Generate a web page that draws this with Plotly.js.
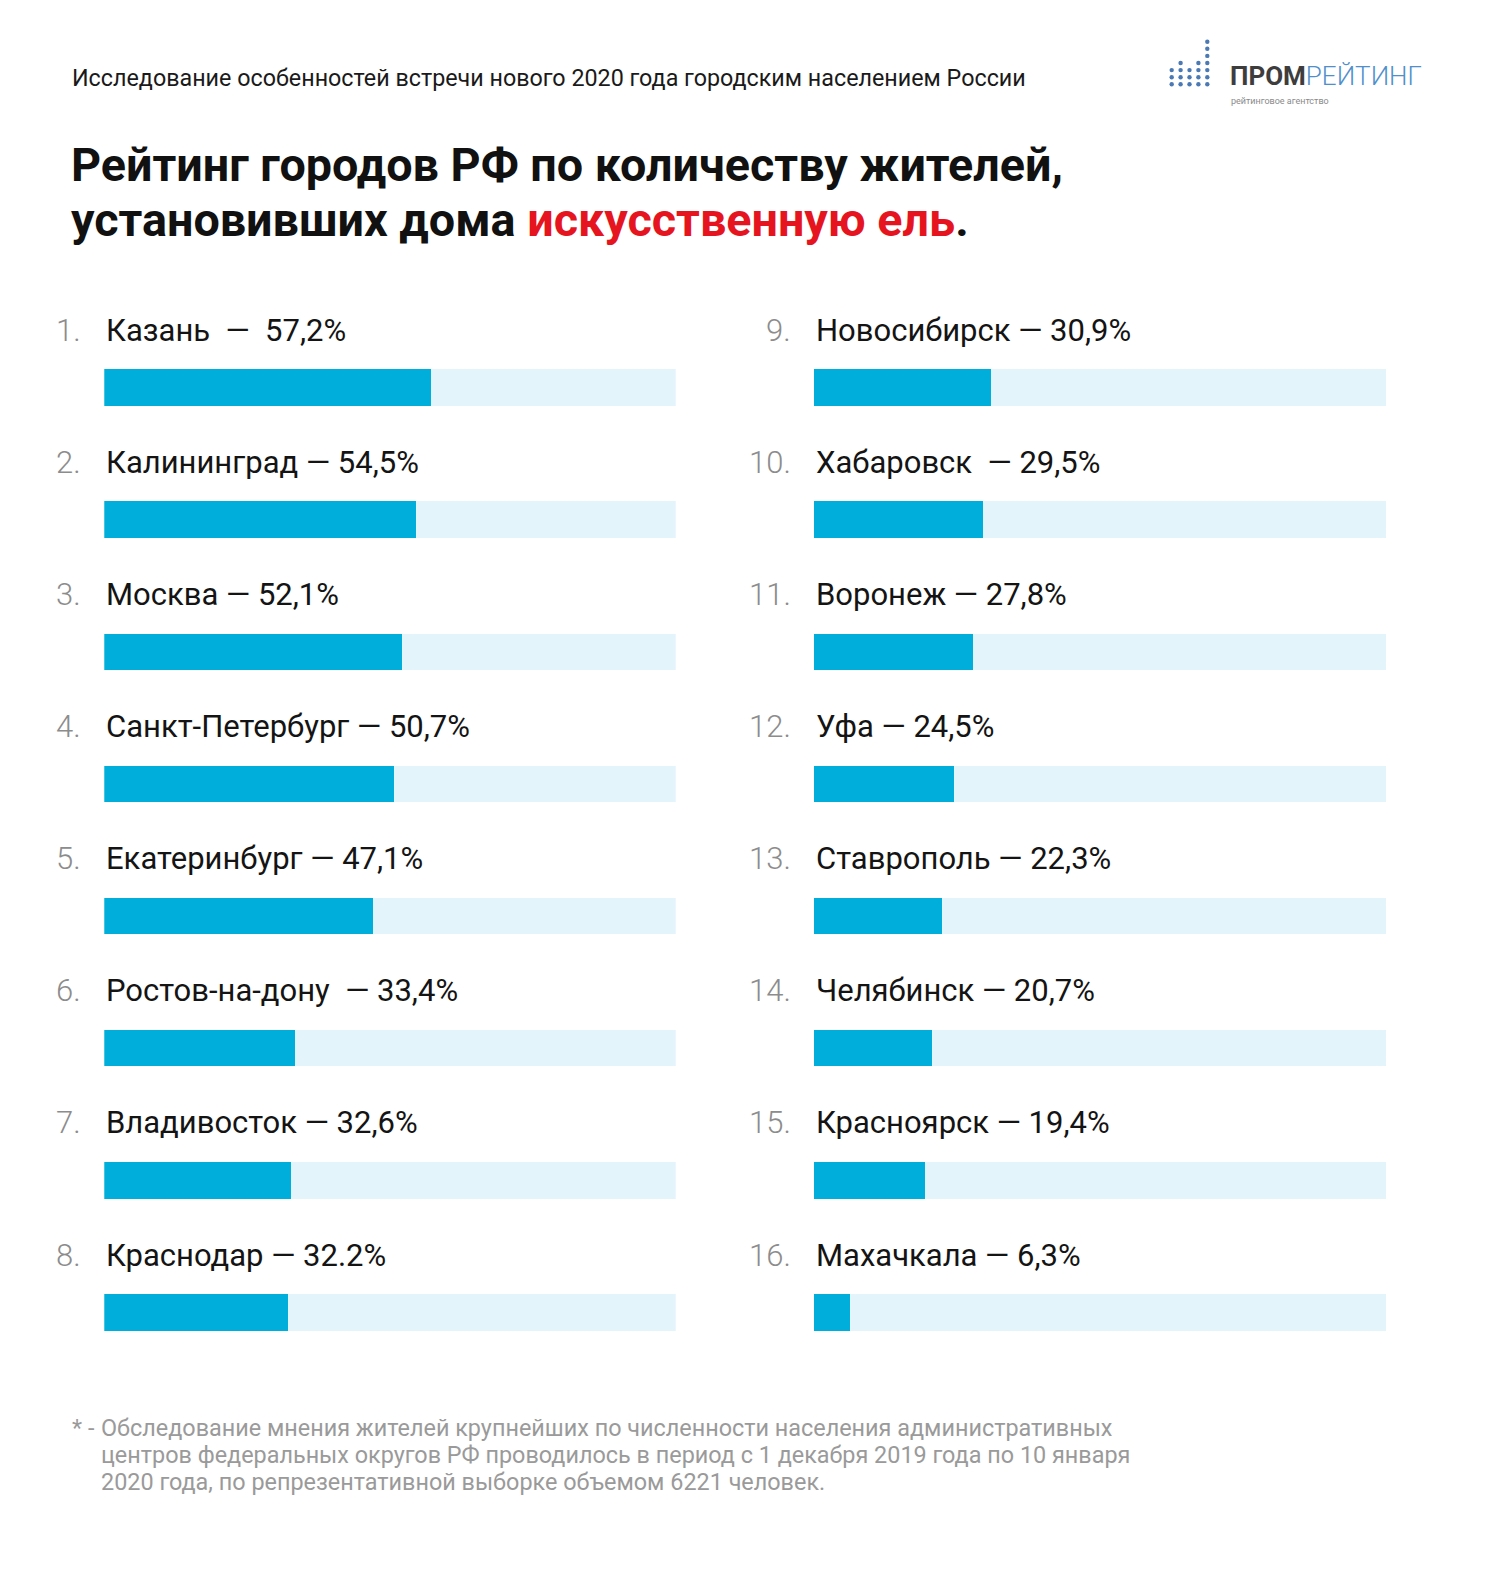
<!DOCTYPE html>
<html>
<head>
<meta charset="utf-8">
<script src="https://cdn.plot.ly/plotly-3.0.1.min.js"></script>
<style>
html,body{margin:0;padding:0;background:#fff;}
#chart{width:1500px;height:1583px;}
</style>
</head>
<body>
<div id="chart"></div>
<script>
// ---- data ----
const citiesLeft = ["Казань", "Калининград", "Москва", "Санкт-Петербург", "Екатеринбург", "Ростов-на-дону", "Владивосток", "Краснодар"];
const valuesLeft = [57.2, 54.5, 52.1, 50.7, 47.1, 33.4, 32.6, 32.2];
const valueLabelsLeft = ["57,2%", "54,5%", "52,1%", "50,7%", "47,1%", "33,4%", "32,6%", "32.2%"];
const ranksLeft = ["1.", "2.", "3.", "4.", "5.", "6.", "7.", "8."];

const citiesRight = ["Новосибирск", "Хабаровск", "Воронеж", "Уфа", "Ставрополь", "Челябинск", "Красноярск", "Махачкала"];
const valuesRight = [30.9, 29.5, 27.8, 24.5, 22.3, 20.7, 19.4, 6.3];
const valueLabelsRight = ["30,9%", "29,5%", "27,8%", "24,5%", "22,3%", "20,7%", "19,4%", "6,3%"];
const ranksRight = ["9.", "10.", "11.", "12.", "13.", "14.", "15.", "16."];

const scaleMax = 100;

// ---- styling ----
const W = 1500, H = 1583;
const BLUE = "#00AEDB", LIGHT = "#E3F4FB";
const FONT = "Roboto, 'Noto Sans', sans-serif";
const barW = 0.2755;
const rowsIdx = citiesLeft.map((_, i) => i);
const NB = "\u00A0";

function py(p){ return 1 - p / H; }
function px(p){ return p / W; }

const traces = [];
function addColumn(vals, xa, ya){
  traces.push({type:"bar", orientation:"h", x: vals.map(()=>scaleMax), y: rowsIdx, width: barW,
    marker:{color:LIGHT, line:{width:0}}, xaxis:xa, yaxis:ya, hoverinfo:"skip", showlegend:false});
  traces.push({type:"bar", orientation:"h", x: vals, y: rowsIdx, width: barW,
    marker:{color:BLUE, line:{width:0}}, xaxis:xa, yaxis:ya, hoverinfo:"skip", showlegend:false});
}
addColumn(valuesLeft, "x", "y");
addColumn(valuesRight, "x2", "y2");

const annotations = [];
const labelOffset = 0.435;
// separator styles reproduce the spacing seen in the original labels
const SEP = {n:" — ", wide:NB+" —"+NB+" ", pre:NB+" — "};
function addLabels(cities, labels, ranks, xr, yr, seps){
  cities.forEach((c, i) => {
    annotations.push({xref:xr, yref:yr, x:0, y:i - labelOffset, xanchor:"left", yanchor:"middle",
      showarrow:false, text: c + SEP[seps[i]] + labels[i],
      font:{family:FONT, size:31, color:"#141414"}});
    annotations.push({xref:xr, yref:yr, x:0, y:i - labelOffset, xanchor:"right", yanchor:"middle",
      xshift:-21, showarrow:false, text: ranks[i],
      font:{family:FONT, size:31, color:"#8c8c8c", weight:300}});
  });
}
addLabels(citiesLeft, valueLabelsLeft, ranksLeft, "x", "y", ["wide","n","n","n","n","pre","n","n"]);
addLabels(citiesRight, valueLabelsRight, ranksRight, "x2", "y2", ["n","pre","n","n","n","n","n","n"]);

// header texts
annotations.push({xref:"paper", yref:"paper", x:px(70), y:py(78), xanchor:"left", yanchor:"middle", showarrow:false,
  text:"Исследование особенностей встречи нового 2020 года городским населением России",
  font:{family:FONT, size:23.3, color:"#1a1a1a"}});
annotations.push({xref:"paper", yref:"paper", x:px(69), y:py(165), xanchor:"left", yanchor:"middle", showarrow:false,
  text:"<b>Рейтинг городов РФ по количеству жителей,</b>",
  font:{family:FONT, size:46.7, color:"#111111"}});
annotations.push({xref:"paper", yref:"paper", x:px(69), y:py(220), xanchor:"left", yanchor:"middle", showarrow:false,
  text:"<b>установивших дома <span style='color:#E5141E'>искусственную ель</span>.</b>",
  font:{family:FONT, size:46.7, color:"#111111"}});

// footnote
const foot = ["Обследование мнения жителей крупнейших по численности населения административных",
  "центров федеральных округов РФ проводилось в период с 1 декабря 2019 года по 10 января",
  "2020 года, по репрезентативной выборке объемом 6221 человек."];
const footY = [1428, 1455, 1482];
annotations.push({xref:"paper", yref:"paper", x:px(70), y:py(footY[0]), xanchor:"left", yanchor:"middle", showarrow:false,
  text:"* -", font:{family:FONT, size:23.4, color:"#9a9a9a"}});
foot.forEach((t, i) => annotations.push({xref:"paper", yref:"paper", x:px(99), y:py(footY[i]), xanchor:"left", yanchor:"middle", showarrow:false,
  text:t, font:{family:FONT, size:23.4, color:"#9a9a9a"}}));

// logo
annotations.push({xref:"paper", yref:"paper", x:px(1228), y:py(76), xanchor:"left", yanchor:"middle", showarrow:false,
  text:"<b>ПРОМ</b><span style='color:#4f8fcc;font-weight:300'>РЕЙТИНГ</span>",
  font:{family:FONT, size:26, color:"#3d3d3d"}});
annotations.push({xref:"paper", yref:"paper", x:px(1229), y:py(101), xanchor:"left", yanchor:"middle", showarrow:false,
  text:"рейтинговое агентство", font:{family:FONT, size:9, color:"#8a8a8a"}});

const shapes = [];
const logoCols = [3, 4, 3, 4, 7];
logoCols.forEach((n, c) => {
  const cx = 1171.7 + c * 8.9;
  for (let k = 0; k < n; k++) {
    const cy = 84.3 - k * 7.1;
    shapes.push({type:"circle", xref:"paper", yref:"paper", x0:px(cx-2.2), x1:px(cx+2.2), y0:py(cy+2.2), y1:py(cy-2.2),
      fillcolor:"#4a79b3", line:{width:0}});
  }
});

const yDomain = [1 - 1378.57 / H, 1 - 321.43 / H];
const axX = {range:[0, scaleMax], visible:false, showgrid:false, zeroline:false, fixedrange:true};
const axY = {range:[7.5, -0.5], visible:false, showgrid:false, zeroline:false, domain:yDomain, fixedrange:true};

const layout = {
  width:W, height:H, margin:{l:0, r:0, t:0, b:0},
  paper_bgcolor:"#ffffff", plot_bgcolor:"rgba(0,0,0,0)",
  barmode:"overlay", bargap:0,
  xaxis: Object.assign({}, axX, {domain:[104.3/W, 675.7/W], anchor:"y"}),
  yaxis: Object.assign({}, axY, {anchor:"x"}),
  xaxis2: Object.assign({}, axX, {domain:[814/W, 1386/W], anchor:"y2"}),
  yaxis2: Object.assign({}, axY, {anchor:"x2"}),
  annotations, shapes, showlegend:false
};

Plotly.newPlot("chart", traces, layout, {displayModeBar:false, staticPlot:true});
</script>
</body>
</html>
